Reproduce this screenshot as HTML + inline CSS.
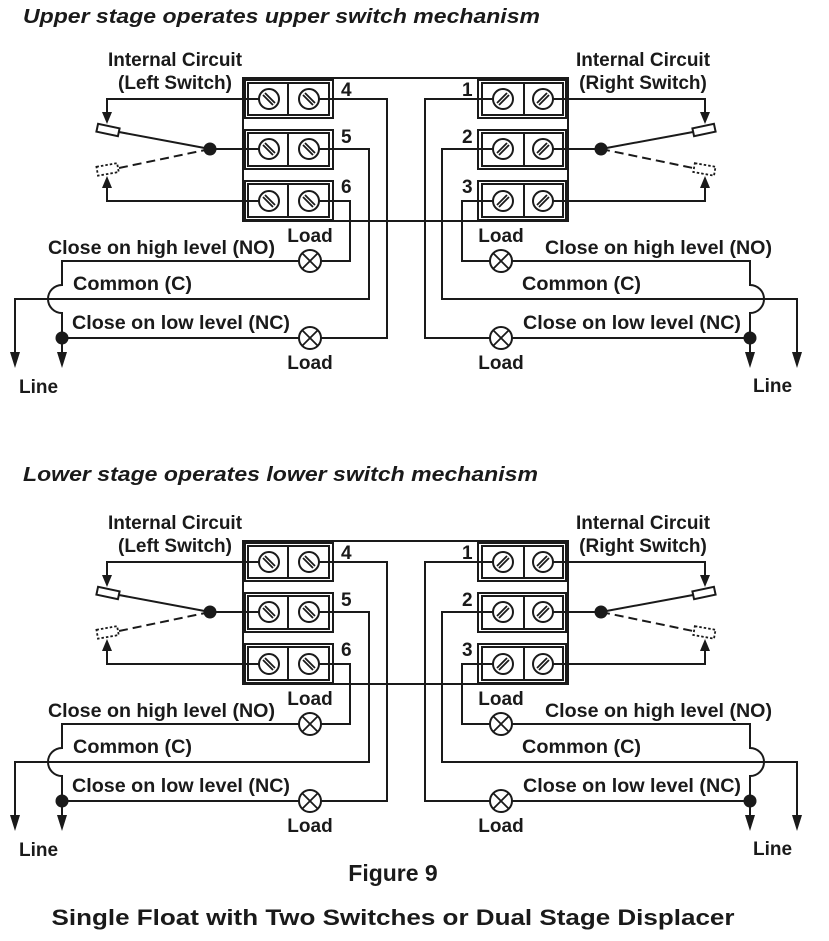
<!DOCTYPE html>
<html><head><meta charset="utf-8"><style>
html,body{margin:0;padding:0;background:#fff;}
svg{display:block;}
text{font-family:"Liberation Sans",Arial,sans-serif;font-weight:bold;fill:#1a1a1a;}
</style></head><body>
<svg width="829" height="941" viewBox="0 0 829 941" xmlns="http://www.w3.org/2000/svg">
<defs>
<g id="sl"><circle r="10" fill="#fff" stroke="#1a1a1a" stroke-width="2"/><line x1="-6" y1="-4" x2="4" y2="6" stroke="#1a1a1a" stroke-width="1.8"/><line x1="-4" y1="-6" x2="6" y2="4" stroke="#1a1a1a" stroke-width="1.8"/></g>
<g id="sr"><circle r="10" fill="#fff" stroke="#1a1a1a" stroke-width="2"/><line x1="-6" y1="4" x2="4" y2="-6" stroke="#1a1a1a" stroke-width="1.8"/><line x1="-4" y1="6" x2="6" y2="-4" stroke="#1a1a1a" stroke-width="1.8"/></g>
<g id="lamp"><circle r="11" fill="#fff" stroke="#1a1a1a" stroke-width="2"/><line x1="-7.5" y1="-7.5" x2="7.5" y2="7.5" stroke="#1a1a1a" stroke-width="1.8"/><line x1="-7.5" y1="7.5" x2="7.5" y2="-7.5" stroke="#1a1a1a" stroke-width="1.8"/></g>
<g id="diag" fill="none" stroke="#1a1a1a" stroke-width="2">
  <path d="M243 78 H568 V221 H243 Z"/>
  <rect x="245" y="80" width="88" height="38"/><rect x="248" y="83" width="81" height="32"/><line x1="288" y1="83" x2="288" y2="115"/>
  <rect x="245" y="130" width="88" height="39"/><rect x="248" y="133" width="81" height="33"/><line x1="288" y1="133" x2="288" y2="166"/>
  <rect x="245" y="181" width="88" height="39"/><rect x="248" y="184" width="81" height="33"/><line x1="288" y1="184" x2="288" y2="217"/>
  <rect x="478" y="80" width="88" height="38"/><rect x="482" y="83" width="81" height="32"/><line x1="524" y1="83" x2="524" y2="115"/>
  <rect x="478" y="130" width="88" height="39"/><rect x="482" y="133" width="81" height="33"/><line x1="524" y1="133" x2="524" y2="166"/>
  <rect x="478" y="181" width="88" height="39"/><rect x="482" y="184" width="81" height="33"/><line x1="524" y1="184" x2="524" y2="217"/>
  <path d="M259 99 H107 V114"/>
  <path d="M259 201 H107 V186"/>
  <line x1="259" y1="149" x2="210" y2="149"/>
  <line x1="210" y1="149" x2="119" y2="132"/>
  <line x1="210" y1="149" x2="119" y2="168" stroke-dasharray="9,5"/>
  <rect x="97" y="126" width="22" height="8" transform="rotate(12 108 130)"/>
  <rect x="97" y="165" width="21" height="9" transform="rotate(-10 107 169)" stroke-dasharray="2.5,2" stroke-width="1.8"/>
  <path d="M553 99 H705 V114"/>
  <path d="M553 201 H705 V186"/>
  <line x1="553" y1="149" x2="601" y2="149"/>
  <line x1="601" y1="149" x2="693" y2="132"/>
  <line x1="601" y1="149" x2="693" y2="168" stroke-dasharray="9,5"/>
  <rect x="693" y="126" width="22" height="8" transform="rotate(-12 704 130)"/>
  <rect x="694" y="165" width="21" height="9" transform="rotate(10 705 169)" stroke-dasharray="2.5,2" stroke-width="1.8"/>
  <path d="M319 99 H387 V338 H321"/>
  <path d="M299 338 H62"/>
  <path d="M319 149 H369 V299 H15 V354"/>
  <path d="M319 201 H350 V261 H321"/>
  <path d="M299 261 H62 V285 A14 14 0 0 0 62 313 V354"/>
  <path d="M493 99 H425 V338 H490"/>
  <path d="M512 338 H750"/>
  <path d="M493 149 H442 V299 H797 V354"/>
  <path d="M493 201 H462 V261 H490"/>
  <path d="M512 261 H750 V285 A14 14 0 0 1 750 313 V354"/>
</g>
<g id="diagf" fill="#1a1a1a">
  <polygon points="102,112 112,112 107,124"/>
  <polygon points="102,188 112,188 107,176"/>
  <polygon points="700,112 710,112 705,124"/>
  <polygon points="700,188 710,188 705,176"/>
  <circle cx="210" cy="149" r="6.5"/>
  <circle cx="601" cy="149" r="6.5"/>
  <circle cx="62" cy="338" r="6.5"/>
  <circle cx="750" cy="338" r="6.5"/>
  <polygon points="10,352 20,352 15,368"/>
  <polygon points="57,352 67,352 62,368"/>
  <polygon points="745,352 755,352 750,368"/>
  <polygon points="792,352 802,352 797,368"/>
  <use href="#sl" x="269" y="99"/><use href="#sl" x="309" y="99"/>
  <use href="#sl" x="269" y="149"/><use href="#sl" x="309" y="149"/>
  <use href="#sl" x="269" y="201"/><use href="#sl" x="309" y="201"/>
  <use href="#sr" x="503" y="99"/><use href="#sr" x="543" y="99"/>
  <use href="#sr" x="503" y="149"/><use href="#sr" x="543" y="149"/>
  <use href="#sr" x="503" y="201"/><use href="#sr" x="543" y="201"/>
  <use href="#lamp" x="310" y="261"/><use href="#lamp" x="310" y="338"/>
  <use href="#lamp" x="501" y="261"/><use href="#lamp" x="501" y="338"/>
</g>
</defs>

<text x="23" y="23" font-size="20" font-style="italic" textLength="517" lengthAdjust="spacingAndGlyphs">Upper stage operates upper switch mechanism</text>
<g>
<use href="#diag"/><use href="#diagf"/>
<g font-size="19">
<text x="175" y="66" text-anchor="middle">Internal Circuit</text>
<text x="175" y="89" text-anchor="middle">(Left Switch)</text>
<text x="643" y="66" text-anchor="middle">Internal Circuit</text>
<text x="643" y="89" text-anchor="middle">(Right Switch)</text>
<text x="341" y="96">4</text><text x="341" y="143">5</text><text x="341" y="193">6</text>
<text x="462" y="96">1</text><text x="462" y="143">2</text><text x="462" y="193">3</text>
<text x="310" y="242" text-anchor="middle">Load</text>
<text x="501" y="242" text-anchor="middle">Load</text>
<text x="310" y="369" text-anchor="middle">Load</text>
<text x="501" y="369" text-anchor="middle">Load</text>
<text x="48" y="254" textLength="227" lengthAdjust="spacingAndGlyphs">Close on high level (NO)</text>
<text x="545" y="254" textLength="227" lengthAdjust="spacingAndGlyphs">Close on high level (NO)</text>
<text x="73" y="290" textLength="119" lengthAdjust="spacingAndGlyphs">Common (C)</text>
<text x="522" y="290" textLength="119" lengthAdjust="spacingAndGlyphs">Common (C)</text>
<text x="72" y="329" textLength="218" lengthAdjust="spacingAndGlyphs">Close on low level (NC)</text>
<text x="523" y="329" textLength="218" lengthAdjust="spacingAndGlyphs">Close on low level (NC)</text>
<text x="19" y="393">Line</text>
<text x="753" y="392">Line</text>
</g>
</g>

<text x="23" y="481" font-size="20" font-style="italic" textLength="515" lengthAdjust="spacingAndGlyphs">Lower stage operates lower switch mechanism</text>
<g transform="translate(0,463)">
<use href="#diag"/><use href="#diagf"/>
<g font-size="19">
<text x="175" y="66" text-anchor="middle">Internal Circuit</text>
<text x="175" y="89" text-anchor="middle">(Left Switch)</text>
<text x="643" y="66" text-anchor="middle">Internal Circuit</text>
<text x="643" y="89" text-anchor="middle">(Right Switch)</text>
<text x="341" y="96">4</text><text x="341" y="143">5</text><text x="341" y="193">6</text>
<text x="462" y="96">1</text><text x="462" y="143">2</text><text x="462" y="193">3</text>
<text x="310" y="242" text-anchor="middle">Load</text>
<text x="501" y="242" text-anchor="middle">Load</text>
<text x="310" y="369" text-anchor="middle">Load</text>
<text x="501" y="369" text-anchor="middle">Load</text>
<text x="48" y="254" textLength="227" lengthAdjust="spacingAndGlyphs">Close on high level (NO)</text>
<text x="545" y="254" textLength="227" lengthAdjust="spacingAndGlyphs">Close on high level (NO)</text>
<text x="73" y="290" textLength="119" lengthAdjust="spacingAndGlyphs">Common (C)</text>
<text x="522" y="290" textLength="119" lengthAdjust="spacingAndGlyphs">Common (C)</text>
<text x="72" y="329" textLength="218" lengthAdjust="spacingAndGlyphs">Close on low level (NC)</text>
<text x="523" y="329" textLength="218" lengthAdjust="spacingAndGlyphs">Close on low level (NC)</text>
<text x="19" y="393">Line</text>
<text x="753" y="392">Line</text>
</g>
</g>

<text x="393" y="881" font-size="23" text-anchor="middle">Figure 9</text>
<text x="393" y="925" font-size="22.5" text-anchor="middle" textLength="683" lengthAdjust="spacingAndGlyphs">Single Float with Two Switches or Dual Stage Displacer</text>
</svg>
</body></html>
